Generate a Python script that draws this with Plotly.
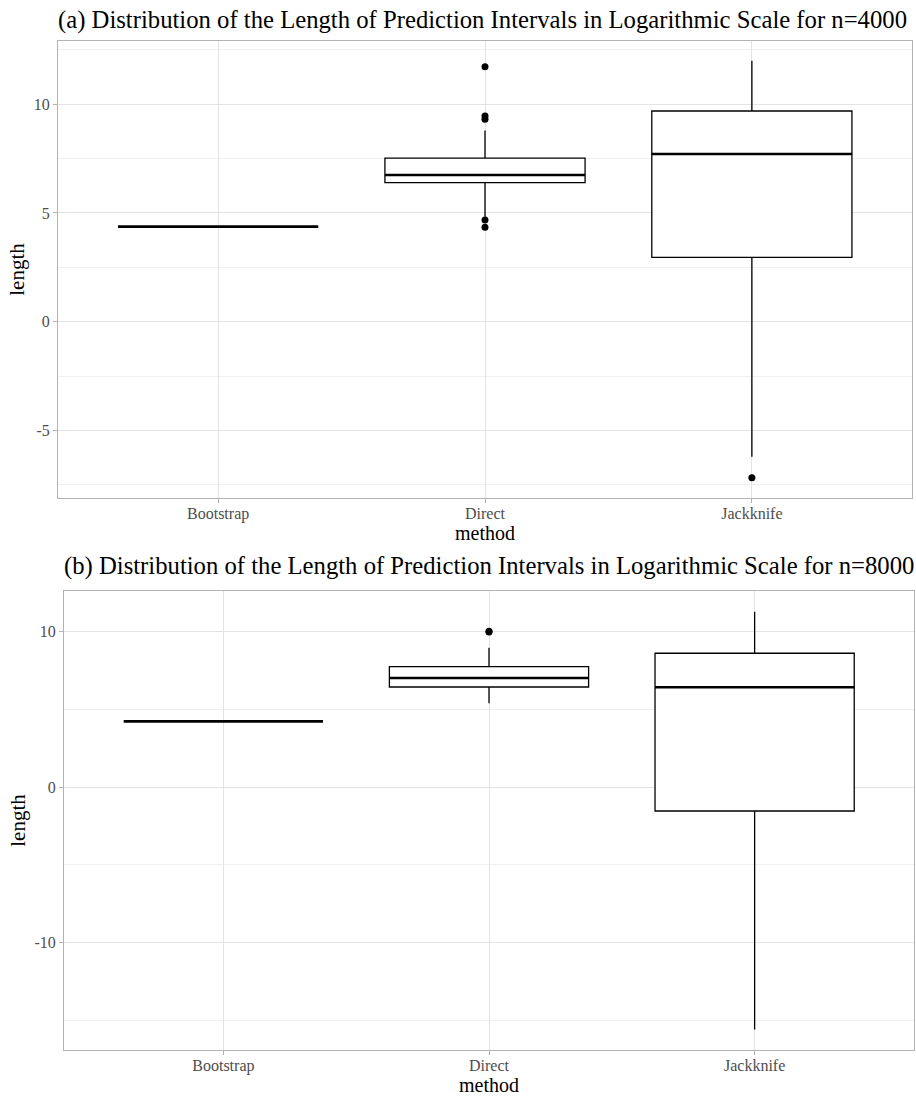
import plotly.graph_objects as go

# ---------------- data ----------------
methods = ["Bootstrap", "Direct", "Jackknife"]

# panel (a) n=4000
a_q1 = [4.37, 6.40, 2.96]
a_med = [4.37, 6.75, 7.71]
a_q3 = [4.37, 7.52, 9.69]
a_low = [4.37, 4.83, -6.21]
a_high = [4.37, 8.79, 12.00]
a_out_method = ["Direct", "Direct", "Direct", "Direct", "Direct", "Jackknife"]
a_out_value = [11.73, 9.46, 9.31, 4.68, 4.34, -7.18]

# panel (b) n=8000
b_q1 = [4.22, 6.43, -1.54]
b_med = [4.22, 7.01, 6.41]
b_q3 = [4.22, 7.74, 8.60]
b_low = [4.22, 5.38, -15.58]
b_high = [4.22, 8.96, 11.27]
b_out_method = ["Direct", "Direct"]
b_out_value = [9.97, 10.02]

a_ticks = [-5, 0, 5, 10]
b_ticks = [-10, 0, 10]

titles = [
    "(a) Distribution of the Length of Prediction Intervals in Logarithmic Scale for n=4000",
    "(b) Distribution of the Length of Prediction Intervals in Logarithmic Scale for n=8000",
]

# ---------------- layout constants ----------------
W, H = 916, 1097
FONT = "Liberation Serif, Times New Roman, serif"
BOX_W = 0.75
pos = {m: i + 1 for i, m in enumerate(methods)}

fig = go.Figure()


def add_panel(q1, med, q3, low, high, om, ov, xa, ya):
    xs = [pos[m] for m in methods]
    fig.add_trace(go.Box(
        x=xs, q1=q1, median=med, q3=q3, lowerfence=low, upperfence=high,
        width=BOX_W, whiskerwidth=0, fillcolor="white",
        line=dict(color="black", width=1.3),
        boxpoints=False, showlegend=False, xaxis=xa, yaxis=ya,
        hoverinfo="skip",
    ))
    # thicker median line (ggplot fatten)
    for x, m in zip(xs, med):
        fig.add_trace(go.Scatter(
            x=[x - BOX_W / 2, x + BOX_W / 2], y=[m, m], mode="lines",
            line=dict(color="black", width=2.6), showlegend=False,
            xaxis=xa, yaxis=ya, hoverinfo="skip",
        ))
    fig.add_trace(go.Scatter(
        x=[pos[m] for m in om], y=ov, mode="markers",
        marker=dict(color="black", size=7), showlegend=False,
        xaxis=xa, yaxis=ya, hoverinfo="skip",
    ))


add_panel(a_q1, a_med, a_q3, a_low, a_high, a_out_method, a_out_value, "x", "y")
add_panel(b_q1, b_med, b_q3, b_low, b_high, b_out_method, b_out_value, "x2", "y2")

# pixel boxes of panels
pa = dict(l=58, r=912, t=41, b=498)
pb = dict(l=64, r=914, t=591, b=1050)


def xdom(p):
    return [p["l"] / W, p["r"] / W]


def ydom(p):
    return [1 - p["b"] / H, 1 - p["t"] / H]


grid = "#E3E3E3"
border = "#B3B3B3"
tickfont = dict(family=FONT, size=16, color="#4D4D4D")
titlefont = dict(family=FONT, size=20, color="black")

common_x = dict(
    tickmode="array", tickvals=[1, 2, 3], ticktext=methods, range=[0.4, 3.6],
    showgrid=True, gridcolor=grid, gridwidth=1, zeroline=False,
    showline=True, linecolor=border, linewidth=1, mirror=True,
    ticks="outside", ticklen=4, tickcolor=border, tickfont=tickfont,
    ticklabelstandoff=-3,
    automargin=False,
    title=dict(text="method", font=titlefont, standoff=1),
)
common_y = dict(
    tickmode="array",
    showgrid=True, gridcolor=grid, gridwidth=1, zeroline=False,
    showline=True, linecolor=border, linewidth=1, mirror=True,
    ticks="outside", ticklen=4, tickcolor=border, tickfont=tickfont,
    automargin=False,
    title=dict(text="length", font=dict(family=FONT, size=21, color="black"),
               standoff=3),
)

fig.update_layout(
    width=W, height=H, margin=dict(l=0, r=0, t=0, b=0),
    paper_bgcolor="white", plot_bgcolor="white",
    xaxis=dict(domain=xdom(pa), anchor="y", **common_x),
    yaxis=dict(domain=ydom(pa), anchor="x", range=[-8.11, 12.91],
               tickvals=a_ticks, ticktext=[str(t) for t in a_ticks],
               minor=dict(tickvals=[-7.5, -2.5, 2.5, 7.5, 12.5], showgrid=True,
                          gridcolor="#EFEFEF", gridwidth=1, ticks=""),
               **common_y),
    xaxis2=dict(domain=xdom(pb), anchor="y2", **common_x),
    yaxis2=dict(domain=ydom(pb), anchor="x2", range=[-16.9, 12.6],
                tickvals=b_ticks, ticktext=[str(t) for t in b_ticks],
                minor=dict(tickvals=[-15, -5, 5], showgrid=True,
                           gridcolor="#EFEFEF", gridwidth=1, ticks=""),
                **common_y),
    annotations=[
        dict(text=titles[0], xref="paper", yref="paper",
             x=56 / W, y=1 - 20 / H,
             xanchor="left", yanchor="middle", showarrow=False,
             font=dict(family=FONT, size=24.7, color="black")),
        dict(text=titles[1], xref="paper", yref="paper",
             x=62 / W, y=1 - 566 / H,
             xanchor="left", yanchor="middle", showarrow=False,
             font=dict(family=FONT, size=24.7, color="black")),
    ],
)

# remove the default page margin so the figure fills the window exactly
fig.write_html(
    "out.html",
    config={"displayModeBar": False},
    post_script="document.body.style.margin='0';document.body.style.overflow='hidden';",
)
